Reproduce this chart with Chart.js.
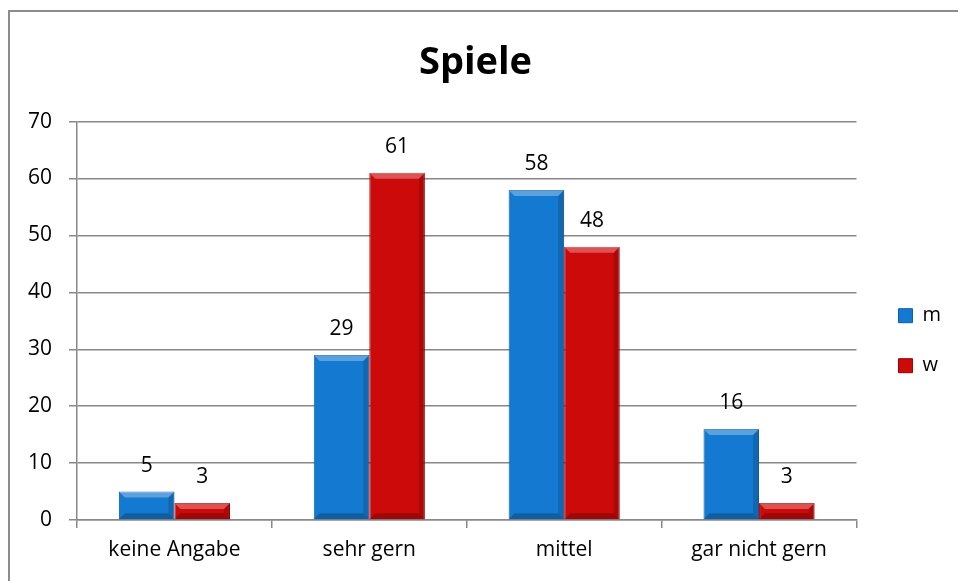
<!DOCTYPE html>
<html>
<head>
<meta charset="utf-8">
<script src="https://cdn.jsdelivr.net/npm/chart.js@4"></script>
<style>
  body { margin: 0; background: #fff; }
  #wrap { width: 958px; height: 581px; position: relative; }
</style>
</head>
<body>
<div id="wrap"><canvas id="spiele"></canvas></div>
<script>
// values
const categories = ['keine Angabe', 'sehr gern', 'mittel', 'gar nicht gern'];
const valuesM = [5, 29, 58, 16];
const valuesW = [3, 61, 48, 3];
const yTicks = [0, 10, 20, 30, 40, 50, 60, 70];

const blue = '#1479d0';
const red = '#cc0a0a';
const fontName = "'Open Sans', 'Liberation Sans', sans-serif";

// outer frame of the chart area (only top/left visible in the picture)
const framePlugin = {
    id: 'frame',
    beforeDraw(chart) {
        const c = chart.ctx;
        c.save();
        c.strokeStyle = '#8c8c8c';
        c.lineWidth = 2;
        c.strokeRect(9, 11, 1000, 1000);
        c.restore();
    }
};

// bevel look + value labels over each bar
const barExtras = {
    id: 'barExtras',
    afterDatasetsDraw(chart) {
        const c = chart.ctx;
        c.save();
        chart.data.datasets.forEach((ds, i) => {
            const meta = chart.getDatasetMeta(i);
            meta.data.forEach((bar, j) => {
                const left = bar.x - bar.width / 2;
                const right = bar.x + bar.width / 2;
                const top = bar.y;
                const bottom = bar.base;
                const b = Math.min(6, (bottom - top) / 2);
                // top bevel, lighter
                c.fillStyle = 'rgba(255,255,255,0.30)';
                c.beginPath();
                c.moveTo(left, top); c.lineTo(right, top);
                c.lineTo(right - b, top + b); c.lineTo(left + b, top + b);
                c.closePath(); c.fill();
                // right side, darker
                c.fillStyle = 'rgba(0,0,0,0.15)';
                c.beginPath();
                c.moveTo(right, top); c.lineTo(right, bottom);
                c.lineTo(right - b, bottom - b); c.lineTo(right - b, top + b);
                c.closePath(); c.fill();
                // bottom, darker
                c.fillStyle = 'rgba(0,0,0,0.22)';
                c.beginPath();
                c.moveTo(left, bottom); c.lineTo(right, bottom);
                c.lineTo(right - b, bottom - b); c.lineTo(left + b, bottom - b);
                c.closePath(); c.fill();
                // value label
                c.fillStyle = '#000';
                c.font = '21px ' + fontName;
                c.textAlign = 'center';
                c.textBaseline = 'middle';
                c.fillText(ds.data[j], bar.x, top - 26);
            });
        });
        c.restore();
    }
};

const ctx = document.getElementById('spiele').getContext('2d');
const spieleChart = new Chart(ctx, {
    type: 'bar',
    data: {
        labels: categories,
        datasets: [{
            label: 'm',
            data: valuesM,
            backgroundColor: blue,
            borderColor: '#0d5ea8',
            borderWidth: 1
        }, {
            label: 'w',
            data: valuesW,
            backgroundColor: red,
            borderColor: '#9e0000',
            borderWidth: 1
        }]
    },
    options: {
        responsive: true,
        maintainAspectRatio: false,
        animation: false,
        layout: {
            padding: { top: 0, left: 0, right: 7, bottom: 0 }
        },
        datasets: {
            bar: {
                categoryPercentage: 0.57,
                barPercentage: 1.0
            }
        },
        scales: {
            x: {
                grid: {
                    offset: true,
                    drawOnChartArea: false,
                    color: '#888',
                    tickLength: 8,
                    lineWidth: 1.5
                },
                border: { color: '#888', width: 1.5 },
                ticks: {
                    color: '#000',
                    font: { family: fontName, size: 21 },
                    padding: 9
                },
                afterFit(scale) { scale.height = 61; }
            },
            y: {
                min: 0,
                max: 70,
                afterBuildTicks(scale) {
                    scale.ticks = yTicks.map(v => ({ value: v }));
                },
                grid: {
                    color: '#888',
                    lineWidth: 1.5,
                    tickLength: 8
                },
                border: { color: '#888', width: 1.5 },
                ticks: {
                    color: '#000',
                    font: { family: fontName, size: 21 },
                    padding: 17
                },
                afterFit(scale) { scale.width = 77; }
            },
            // empty right-hand spacer between plot and legend
            gap: {
                position: 'right',
                display: true,
                grid: { display: false },
                border: { display: false },
                ticks: { display: false },
                afterFit(scale) { scale.width = 12; }
            }
        },
        plugins: {
            title: {
                display: true,
                text: 'Spiele',
                color: '#000',
                font: { family: fontName, size: 38, weight: 'bold' },
                padding: { top: 40, bottom: 36 }
            },
            legend: {
                position: 'right',
                align: 'center',
                title: {
                    display: true,
                    text: '',
                    padding: { top: 86, bottom: 0 }
                },
                labels: {
                    color: '#000',
                    font: { family: fontName, size: 20 },
                    boxWidth: 14,
                    boxHeight: 14,
                    padding: 30
                }
            },
            tooltip: { enabled: false }
        }
    },
    plugins: [framePlugin, barExtras]
});
</script>
</body>
</html>
